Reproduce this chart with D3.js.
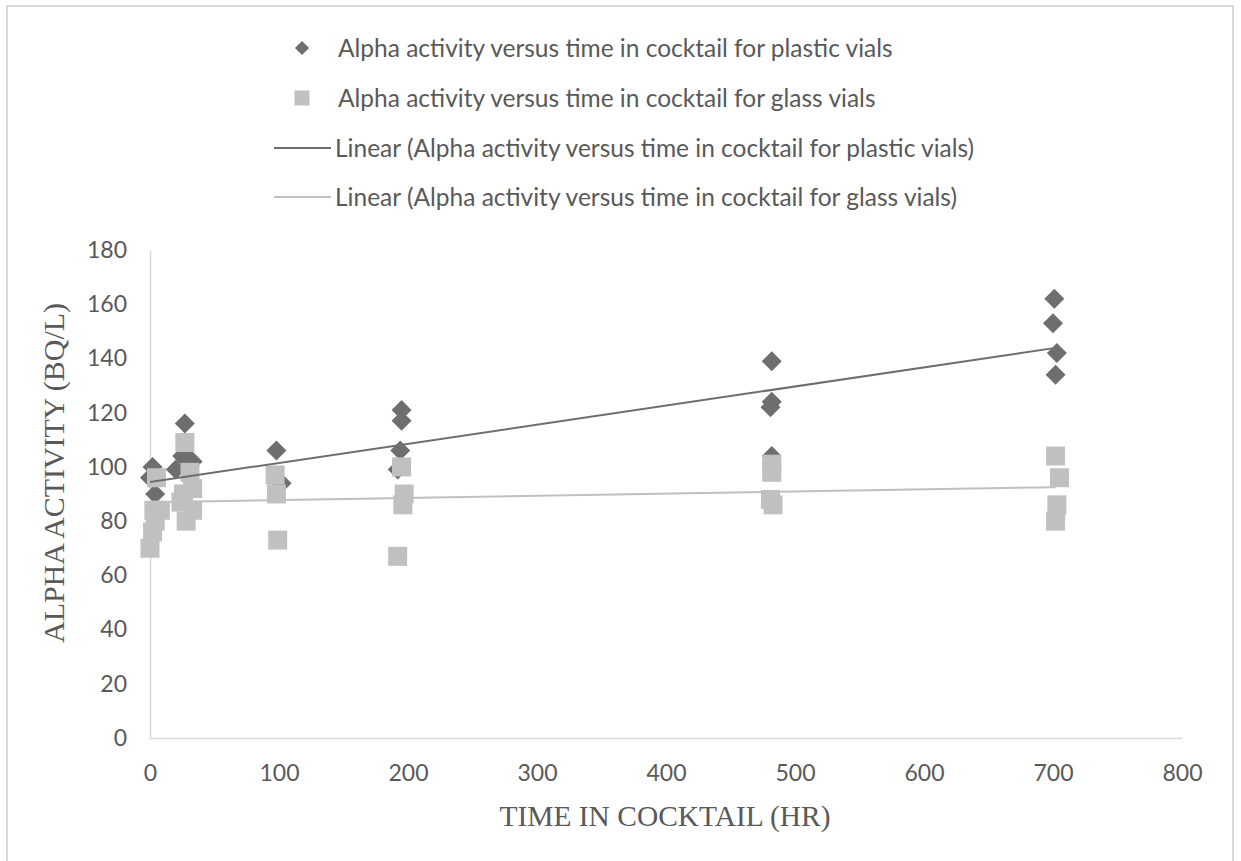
<!DOCTYPE html>
<html>
<head>
<meta charset="utf-8">
<script src="https://cdn.jsdelivr.net/npm/d3@7"></script>
<style>
  html, body { margin: 0; padding: 0; background: #fff; }
  svg { display: block; }
</style>
</head>
<body>
<div id="chart"></div>
<script>
// ─── DONNÉES ──────────────────────────────────────────────────────────────────
const plasticHours = [0, 2, 4, 20, 25, 27, 30, 33, 98, 102, 192, 194, 195, 195, 482, 482, 481, 482, 701, 700, 703, 702];
const plasticAlpha = [96, 100, 90, 99, 104, 116, 103, 102, 106, 94, 99, 106, 117, 121, 139, 124, 122, 104, 162, 153, 142, 134];

const glassHours = [0, 2, 4, 3, 5, 8, 27, 31, 33, 26, 24, 33, 28, 97, 98, 99, 195, 197, 196, 192, 482, 482, 481, 483, 702, 705, 703, 702];
const glassAlpha = [70, 76, 80, 84, 96, 84, 109, 98, 92, 90, 87, 84, 80, 97, 90, 73, 100, 90, 86, 67, 101, 98, 88, 86, 104, 96, 86, 80];

// courbes de tendance (début / fin)
const trendHours   = [0, 702];
const plasticTrend = [94.4, 143.9];
const glassTrend   = [87.0, 92.5];

const xTicks = [0, 100, 200, 300, 400, 500, 600, 700, 800];
const yTicks = [0, 20, 40, 60, 80, 100, 120, 140, 160, 180];

const legendLabels = [
    "Alpha activity versus time in cocktail for plastic vials",
    "Alpha activity versus time in cocktail for glass vials",
    "Linear (Alpha activity versus time in cocktail for plastic vials)",
    "Linear (Alpha activity versus time in cocktail for glass vials)"
];

// ─── STYLES ───────────────────────────────────────────────────────────────────
const darkGrey  = "#6e6e6e";
const lightGrey = "#c0c0c0";
const textColor = "#595959";
const axisColor = "#d9d9d9";
const sansFont  = "Lato, 'Open Sans', sans-serif";
const serifFont = "'Liberation Serif', 'DejaVu Serif', serif";

const W = 1241, H = 861;

const svg = d3.select("#chart").append("svg")
    .attr("width", W)
    .attr("height", H);

// cadre du graphique
svg.append("rect")
    .attr("x", 7).attr("y", 6)
    .attr("width", 1226).attr("height", 880)
    .attr("fill", "none")
    .attr("stroke", axisColor)
    .attr("stroke-width", 2);

const x = d3.scaleLinear().domain([0, 800]).range([150, 1182]);
const y = d3.scaleLinear().domain([0, 180]).range([738, 250]);

// ─── AXES ─────────────────────────────────────────────────────────────────────
svg.append("g")
    .attr("transform", `translate(0,${y(0)})`)
    .call(d3.axisBottom(x).tickValues(xTicks).tickSize(0).tickPadding(27))
    .call(g => g.select(".domain").attr("stroke", axisColor).attr("stroke-width", 1.5))
    .call(g => g.selectAll("text")
        .attr("fill", textColor)
        .style("font-size", "23px")
        .style("font-family", sansFont));

svg.append("g")
    .attr("transform", `translate(${x(0)},0)`)
    .call(d3.axisLeft(y).tickValues(yTicks).tickSize(0).tickPadding(23))
    .call(g => g.select(".domain").attr("stroke", axisColor).attr("stroke-width", 1.5))
    .call(g => g.selectAll("text")
        .attr("fill", textColor)
        .style("font-size", "23px")
        .style("font-family", sansFont));

// titres des axes
svg.append("text")
    .attr("x", 665).attr("y", 826)
    .attr("text-anchor", "middle")
    .attr("fill", textColor)
    .attr("textLength", 331)
    .attr("lengthAdjust", "spacingAndGlyphs")
    .style("font-size", "30px")
    .style("font-family", serifFont)
    .text("TIME IN COCKTAIL (HR)");

svg.append("text")
    .attr("transform", "translate(64,473) rotate(-90)")
    .attr("text-anchor", "middle")
    .attr("fill", textColor)
    .attr("textLength", 340)
    .attr("lengthAdjust", "spacingAndGlyphs")
    .style("font-size", "30px")
    .style("font-family", serifFont)
    .text("ALPHA ACTIVITY (BQ/L)");

// ─── POINTS ───────────────────────────────────────────────────────────────────
const diamond = d3.symbol().type(d3.symbolSquare).size(200);
const square  = d3.symbol().type(d3.symbolSquare).size(361);

svg.append("g").selectAll("path")
    .data(d3.zip(plasticHours, plasticAlpha))
    .join("path")
    .attr("d", diamond)
    .attr("transform", d => `translate(${x(d[0])},${y(d[1])}) rotate(45)`)
    .attr("fill", darkGrey);

svg.append("g").selectAll("path")
    .data(d3.zip(glassHours, glassAlpha))
    .join("path")
    .attr("d", square)
    .attr("transform", d => `translate(${x(d[0])},${y(d[1])})`)
    .attr("fill", lightGrey);

// ─── TENDANCES ────────────────────────────────────────────────────────────────
const line = d3.line().x(d => x(d[0])).y(d => y(d[1]));

svg.append("path")
    .datum(d3.zip(trendHours, plasticTrend))
    .attr("d", line)
    .attr("fill", "none")
    .attr("stroke", darkGrey)
    .attr("stroke-width", 2);

svg.append("path")
    .datum(d3.zip(trendHours, glassTrend))
    .attr("d", line)
    .attr("fill", "none")
    .attr("stroke", lightGrey)
    .attr("stroke-width", 2);

// ─── LÉGENDE ──────────────────────────────────────────────────────────────────
const legendY = [48, 98, 148, 197];
const legend = svg.append("g");

legend.append("path")
    .attr("d", d3.symbol().type(d3.symbolSquare).size(100))
    .attr("transform", `translate(302,${legendY[0]}) rotate(45)`)
    .attr("fill", darkGrey);

legend.append("path")
    .attr("d", d3.symbol().type(d3.symbolSquare).size(225))
    .attr("transform", `translate(302,${legendY[1]})`)
    .attr("fill", lightGrey);

legend.append("line")
    .attr("x1", 274).attr("x2", 331)
    .attr("y1", legendY[2]).attr("y2", legendY[2])
    .attr("stroke", darkGrey).attr("stroke-width", 2);

legend.append("line")
    .attr("x1", 274).attr("x2", 331)
    .attr("y1", legendY[3]).attr("y2", legendY[3])
    .attr("stroke", lightGrey).attr("stroke-width", 2);

legend.selectAll("text.lbl")
    .data(legendLabels)
    .join("text")
    .attr("class", "lbl")
    .attr("x", (d, i) => i < 2 ? 338 : 335)
    .attr("y", (d, i) => legendY[i])
    .attr("dy", "0.35em")
    .attr("fill", textColor)
    .style("font-size", "24.5px")
    .style("font-family", sansFont)
    .text(d => d);
</script>
</body>
</html>
